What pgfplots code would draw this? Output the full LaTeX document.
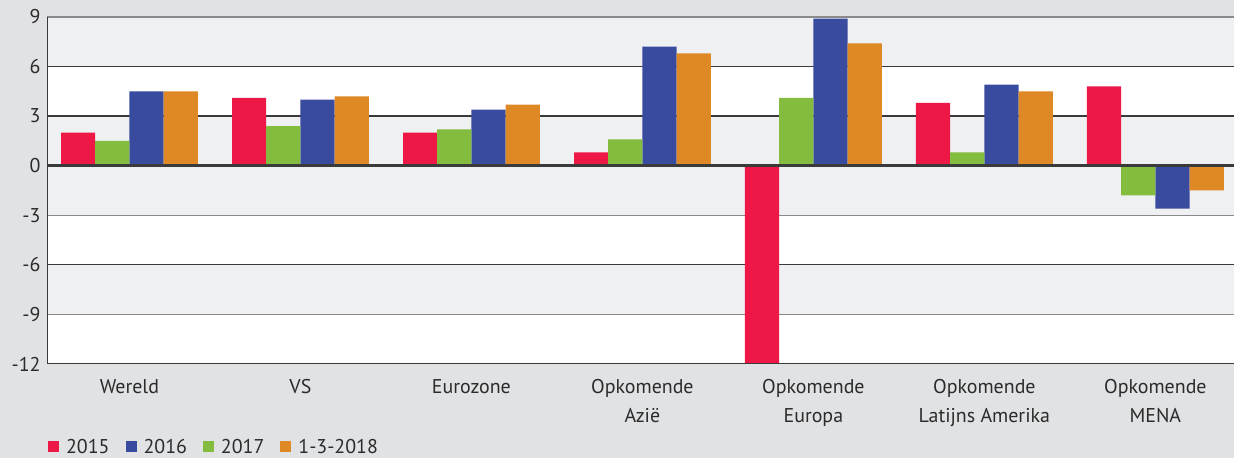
\documentclass[border=0pt]{standalone}
\usepackage{pgfplots}
\pgfplotsset{compat=1.18}
\usepackage{fontspec}
\setmainfont{PT Sans}
\definecolor{bg}{HTML}{E1E2E4}
\definecolor{band}{HTML}{EFF0F2}
\definecolor{cred}{HTML}{EE1846}
\definecolor{cgreen}{HTML}{83BC3F}
\definecolor{cblue}{HTML}{394B9E}
\definecolor{corange}{HTML}{DE8925}
\definecolor{gdark}{HTML}{3A3A3A}
\definecolor{glight}{HTML}{8A8A8A}
\definecolor{txt}{HTML}{2B2B2B}
\pgfplotsset{myleg/.style={legend image code/.code={\fill[##1] (0bp,-5.5bp) rectangle (11bp,5.5bp);}}}
\begin{document}
\begin{tikzpicture}[x=1bp,y=1bp]
\fill[bg] (0,0) rectangle (1234,458);
\useasboundingbox (0,0) rectangle (1234,458);
\begin{axis}[
  at={(47bp,94bp)}, anchor=south west,
  scale only axis, width=1187bp, height=347bp,
  xmin=-0.482, xmax=6.46, ymin=-12, ymax=9,
  ybar, bar width=0.2,
  axis background/.style={fill=white},
  axis line style={draw=none},
  major tick length=0pt,
  clip=true,
  xtick={0,1,2,3,4,5,6},
  xticklabels={Wereld,VS,Eurozone,Opkomende\\Azië,Opkomende\\Europa,Opkomende\\Latijns Amerika,Opkomende\\MENA},
  xticklabel style={align=center, font=\fontsize{20}{29}\selectfont, text=txt, yshift=-12bp},
  ytick={-12,-9,-6,-3,0,3,6,9},
  yticklabels={-12,-9,-6,-3,0,3,6,9},
  yticklabel style={font=\fontsize{20}{24}\selectfont, text=txt, xshift=-3bp},
  legend columns=4,
  legend style={at={(rel axis cs:0.0008,-0.239)}, anchor=west, draw=none, fill=none, inner sep=0pt,
    font=\fontsize{20}{24}\selectfont, text=txt,
    /tikz/every odd column/.append style={column sep=5bp},
    /tikz/every even column/.append style={column sep=14bp}},
]
\fill[band] (axis cs:-0.482,6) rectangle (axis cs:6.46,9);
\fill[band] (axis cs:-0.482,-3) rectangle (axis cs:6.46,3);
\fill[band] (axis cs:-0.482,-9) rectangle (axis cs:6.46,-6);
\draw[glight, line width=1.5bp] (axis cs:-0.482,9) -- (axis cs:6.46,9);
\draw[gdark, line width=1.3bp] (axis cs:-0.482,6) -- (axis cs:6.46,6);
\draw[gdark, line width=1.3bp] (axis cs:-0.482,3) -- (axis cs:6.46,3);
\draw[glight, line width=1.3bp] (axis cs:-0.482,-3) -- (axis cs:6.46,-3);
\draw[gdark, line width=1.3bp] (axis cs:-0.482,-6) -- (axis cs:6.46,-6);
\draw[glight, line width=1.3bp] (axis cs:-0.482,-9) -- (axis cs:6.46,-9);
\addplot[fill=cred, draw=none, bar shift=-0.3, myleg] coordinates {(0,2.0) (1,4.1) (2,2.0) (3,0.8) (4,-12) (5,3.8) (6,4.8)};
\addlegendentry{2015}
\addplot[fill=cblue, draw=none, bar shift=0.1, myleg] coordinates {(0,4.5) (1,4.0) (2,3.4) (3,7.2) (4,8.9) (5,4.9) (6,-2.6)};
\addlegendentry{2016}
\addplot[fill=cgreen, draw=none, bar shift=-0.1, myleg] coordinates {(0,1.5) (1,2.4) (2,2.2) (3,1.6) (4,4.1) (5,0.8) (6,-1.8)};
\addlegendentry{2017}
\addplot[fill=corange, draw=none, bar shift=0.3, myleg] coordinates {(0,4.5) (1,4.2) (2,3.7) (3,6.8) (4,7.4) (5,4.5) (6,-1.5)};
\addlegendentry{1-3-2018}
\draw[gdark, line width=2.5bp] (axis cs:-0.482,0) -- (axis cs:6.46,0);
\draw[gdark, line width=1.5bp] (axis cs:-0.482,-12) -- (axis cs:6.46,-12);
\draw[gdark, line width=2bp] (axis cs:-0.482,-12) -- (axis cs:-0.482,9);
\end{axis}
\end{tikzpicture}
\end{document}
